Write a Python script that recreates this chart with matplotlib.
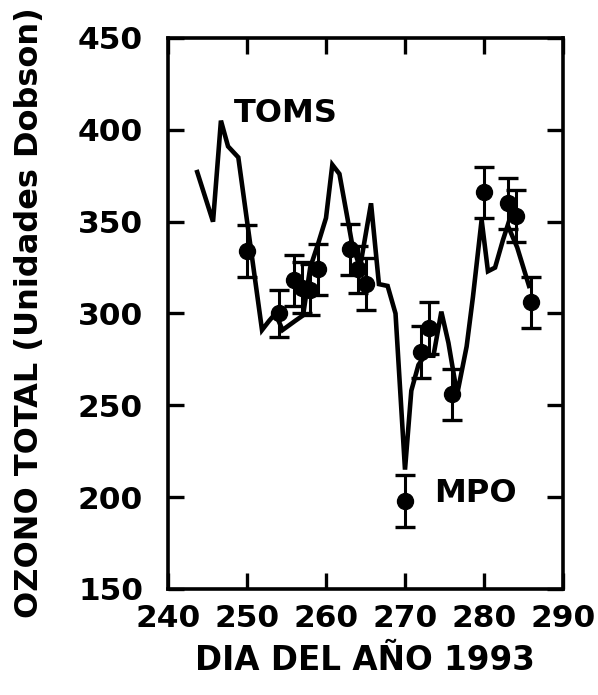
import matplotlib
matplotlib.use("Agg")
import matplotlib.pyplot as plt

# TOMS daily total ozone (line)
toms_day = [243.7, 245.7, 246.7, 247.6, 248.9, 251.9, 252.8, 253.6, 254.5, 256.1,
            257.1, 258.0, 259.0, 260.0, 260.8, 261.7, 263.3, 264.3, 265.7, 266.7,
            267.8, 268.8, 270.0, 270.8, 271.7, 272.5, 273.6, 274.6, 275.5, 276.6,
            277.8, 278.6, 279.7, 280.5, 281.4, 282.4, 283.0, 284.2, 285.7]
toms_val = [377, 350, 405, 391, 385, 291, 296, 300, 291, 296,
            299, 325, 338, 352, 381, 376, 338, 325, 360, 316,
            315, 300, 215, 258, 272, 277, 277, 301, 284, 256,
            282, 309, 351, 323, 325, 340, 348, 336, 315]

# MPO measurements with error bars
mpo_day = [250, 254, 256, 257, 258, 259, 263, 264, 265, 270, 272, 273, 276, 280, 283, 284, 286]
mpo_val = [334, 300, 318, 314, 313, 324, 335, 324, 316, 198, 279, 292, 256, 366, 360, 353, 306]
mpo_err = [14, 13, 14, 14, 14, 14, 14, 13, 14, 14, 14, 14, 14, 14, 14, 14, 14]

xticks = [240, 250, 260, 270, 280, 290]
yticks = [150, 200, 250, 300, 350, 400, 450]

plt.rcParams['font.family'] = ['DejaVu Sans']
plt.rcParams['font.weight'] = 'bold'

fig = plt.figure(figsize=(5.98, 6.95), dpi=100)
ax = fig.add_axes([168/598, 1-589/695, (563-168)/598, (589-38)/695])

ax.plot(toms_day, toms_val, color='black', lw=3.3, solid_joinstyle='miter')
ax.errorbar(mpo_day, mpo_val, yerr=mpo_err, fmt='o', color='black', ms=11.5,
            capsize=7.5, elinewidth=2.2, capthick=2.4)

ax.set_xlim(240, 290)
ax.set_ylim(150, 450)
ax.set_xticks(xticks)
ax.set_yticks(yticks)
for s in ax.spines.values():
    s.set_linewidth(2.6)
ax.tick_params(direction='in', length=11.5, width=2.4, top=True, right=True,
               labelsize=22.5)
ax.tick_params(axis='x', pad=11)
ax.tick_params(axis='y', pad=18)

ax.text(254.9, 409, 'TOMS', fontsize=23, fontweight='bold', ha='center', va='center')
ax.text(278.9, 202, 'MPO', fontsize=23, fontweight='bold', ha='center', va='center')

fig.text(365/598, 1-660/695, 'DIA DEL AÑO 1993', fontsize=23.5, fontweight='bold',
         ha='center', va='center')
fig.text(30/598, 1-313/695, 'OZONO TOTAL (Unidades Dobson)', fontsize=23,
         fontweight='bold', ha='center', va='center', rotation=90)

fig.savefig('out.png', dpi=100)
